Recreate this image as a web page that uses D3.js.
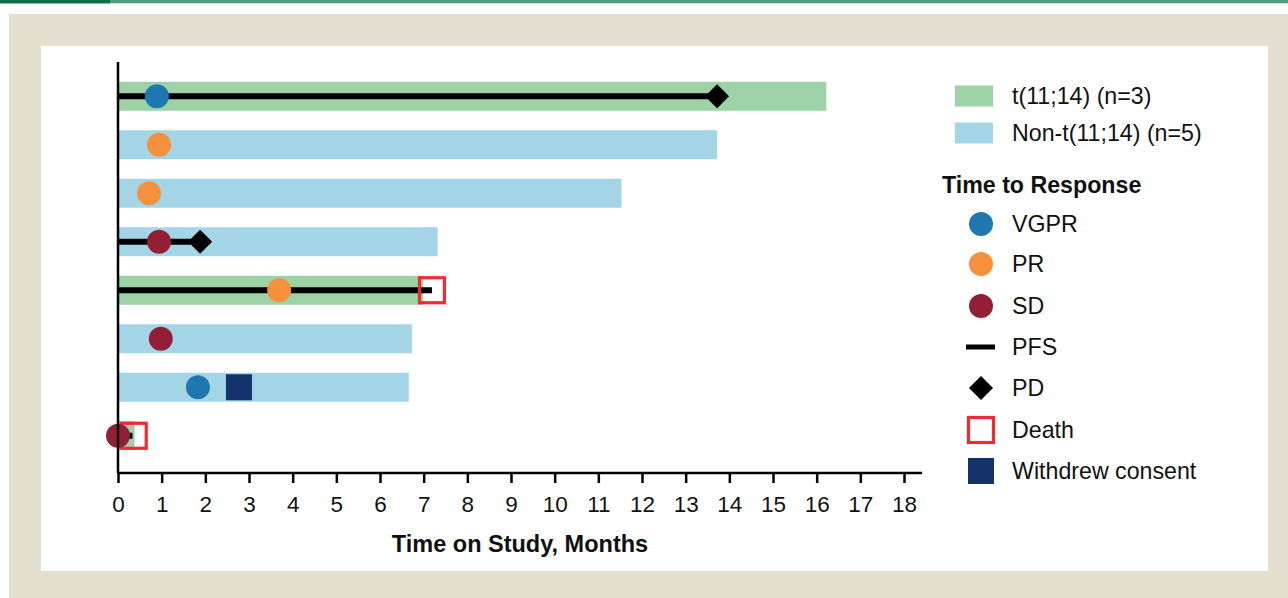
<!DOCTYPE html>
<html><head><meta charset="utf-8">
<script src="https://cdn.jsdelivr.net/npm/d3@7"></script>
<style>html,body{margin:0;padding:0;background:#fff;}svg{display:block;font-family:"Liberation Sans",Arial,sans-serif;}</style>
</head><body>
<svg id="c" width="1288" height="598"></svg>
<script>
// ---- data ----
const patients = ["1","2","3","4","5","6","7","8"];
const groups = ["t(11;14)","Non-t(11;14)","Non-t(11;14)","Non-t(11;14)","t(11;14)","Non-t(11;14)","Non-t(11;14)","t(11;14)"];
const timeOnStudy = [16.22, 13.72, 11.53, 7.32, 6.99, 6.73, 6.66, 0.38];
const pfsEnd = [13.72, null, null, 1.88, 7.19, null, null, 0.33];
const responseType = ["VGPR","PR","PR","SD","PR","SD","VGPR","SD"];
const responseTime = [0.89, 0.94, 0.71, 0.94, 3.69, 0.98, 1.83, 0.0];
const pdTime = [13.72, null, null, 1.88, null, null, null, null];
const deathTime = [null, null, null, null, 7.19, null, null, 0.36];
const withdrewTime = [null, null, null, null, null, null, 2.77, null];
const xTicks = d3.range(0, 19);
const groupLabels = ["t(11;14) (n=3)", "Non-t(11;14) (n=5)"];
const xTitle = "Time on Study, Months";
const legendTitle = "Time to Response";

// ---- styles ----
const groupColor = {"t(11;14)":"#9cd2a6","Non-t(11;14)":"#a4d5e7"};
const respColor = {"VGPR":"#1f77b0","PR":"#f5913d","SD":"#931f37"};
const deathColor = "#ee2b33", wdColor = "#15336b";

const svg = d3.select("#c");
// page frame
svg.append("rect").attr("x",0).attr("y",0).attr("width",1288).attr("height",598).attr("fill","#fff");
svg.append("rect").attr("x",0).attr("y",0).attr("width",1288).attr("height",3.3).attr("fill","#4f9d7e");
svg.append("rect").attr("x",0).attr("y",0).attr("width",110).attr("height",3.3).attr("fill","#0b6f47");
svg.append("rect").attr("x",9).attr("y",14).attr("width",1279).attr("height",584).attr("fill","#e5dfd2");
svg.append("rect").attr("x",41).attr("y",46).attr("width",1227).attr("height",525).attr("fill","#fff");

const x = d3.scaleLinear().domain([0,18]).range([118,904]);
const y = d3.scaleBand().domain(patients).range([72,460]).paddingInner(0.4).paddingOuter(0.2);
const cy = i => y(patients[i]) + y.bandwidth()/2;
const idx = patients.map((p,i)=>i);

const plot = svg.append("g");
// bars
plot.selectAll("rect.bar").data(idx).join("rect")
  .attr("x", x(0)).attr("y", i=>cy(i)-14.5)
  .attr("width", i=>x(timeOnStudy[i])-x(0)).attr("height", 29)
  .attr("fill", i=>groupColor[groups[i]]);
// PFS lines
plot.selectAll("line.pfs").data(idx.filter(i=>pfsEnd[i]!=null)).join("line")
  .attr("x1", x(0)).attr("x2", i=>x(pfsEnd[i])).attr("y1", i=>cy(i)).attr("y2", i=>cy(i))
  .attr("stroke","#000").attr("stroke-width",6);
// death squares
plot.selectAll("rect.death").data(idx.filter(i=>deathTime[i]!=null)).join("rect")
  .attr("x", i=>x(deathTime[i])-12.5).attr("y", i=>cy(i)-12.5).attr("width",25).attr("height",25)
  .attr("fill","none").attr("stroke",deathColor).attr("stroke-width",3.2);
// withdrew
plot.selectAll("rect.wd").data(idx.filter(i=>withdrewTime[i]!=null)).join("rect")
  .attr("x", i=>x(withdrewTime[i])-13).attr("y", i=>cy(i)-13).attr("width",26).attr("height",26)
  .attr("fill",wdColor);
// diamonds
plot.selectAll("path.pd").data(idx.filter(i=>pdTime[i]!=null)).join("path")
  .attr("d", d3.symbol(d3.symbolSquare, 290)())
  .attr("transform", i=>`translate(${x(pdTime[i])},${cy(i)}) rotate(45)`)
  .attr("fill","#000");
// response circles
plot.selectAll("circle.resp").data(idx).join("circle")
  .attr("cx", i=>x(responseTime[i])).attr("cy", i=>cy(i)).attr("r",12)
  .attr("fill", i=>respColor[responseType[i]]);

// axes
svg.append("line").attr("x1",118).attr("x2",118).attr("y1",62).attr("y2",473).attr("stroke","#000").attr("stroke-width",2.5);
const xAxis = svg.append("g").attr("transform","translate(0,473)")
  .call(d3.axisBottom(x).tickValues(xTicks).tickFormat(d3.format("d")).tickSize(10).tickSizeOuter(0));
xAxis.select(".domain").attr("d","M118,0H922").attr("stroke","#000").attr("stroke-width",2.5);
xAxis.selectAll(".tick line").attr("stroke","#000").attr("stroke-width",2.5);
xAxis.selectAll(".tick text").attr("y",23).attr("dy","0.71em").attr("font-size",22.5).attr("fill","#111")
  .attr("font-family","'Liberation Sans',Arial,sans-serif");
svg.append("text").attr("x",520).attr("y",552).attr("text-anchor","middle")
  .attr("font-size",23.5).attr("font-weight","bold").attr("fill","#111").text(xTitle);

// legend
const lg = svg.append("g");
const gKeys = ["t(11;14)","Non-t(11;14)"];
gKeys.forEach((k,j)=>{
  const yy = [96,133][j];
  lg.append("rect").attr("x",955).attr("y",yy-10.5).attr("width",38).attr("height",21).attr("fill",groupColor[k]);
  lg.append("text").attr("x",1012).attr("y",yy+8).attr("font-size",23.2).attr("fill","#111").text(groupLabels[j]);
});
lg.append("text").attr("x",942).attr("y",193).attr("font-size",23.2).attr("font-weight","bold").attr("fill","#111").text(legendTitle);
const items = [
  {lab:"VGPR", y:224, t:"c", c:respColor.VGPR},
  {lab:"PR", y:264, t:"c", c:respColor.PR},
  {lab:"SD", y:306, t:"c", c:respColor.SD},
  {lab:"PFS", y:347, t:"l"},
  {lab:"PD", y:388, t:"d"},
  {lab:"Death", y:430, t:"s"},
  {lab:"Withdrew consent", y:471, t:"w"}
];
items.forEach(it=>{
  if(it.t==="c") lg.append("circle").attr("cx",981).attr("cy",it.y).attr("r",12).attr("fill",it.c);
  if(it.t==="l") lg.append("line").attr("x1",966).attr("x2",995).attr("y1",it.y).attr("y2",it.y).attr("stroke","#000").attr("stroke-width",5);
  if(it.t==="d") lg.append("path").attr("d",d3.symbol(d3.symbolSquare,290)()).attr("transform",`translate(981,${it.y}) rotate(45)`).attr("fill","#000");
  if(it.t==="s") lg.append("rect").attr("x",968.5).attr("y",it.y-12.5).attr("width",25).attr("height",25).attr("fill","none").attr("stroke",deathColor).attr("stroke-width",3.2);
  if(it.t==="w") lg.append("rect").attr("x",968).attr("y",it.y-13).attr("width",26).attr("height",26).attr("fill",wdColor);
  lg.append("text").attr("x",1012).attr("y",it.y+8).attr("font-size",23.2).attr("fill","#111").text(it.lab);
});
</script>
</body></html>
